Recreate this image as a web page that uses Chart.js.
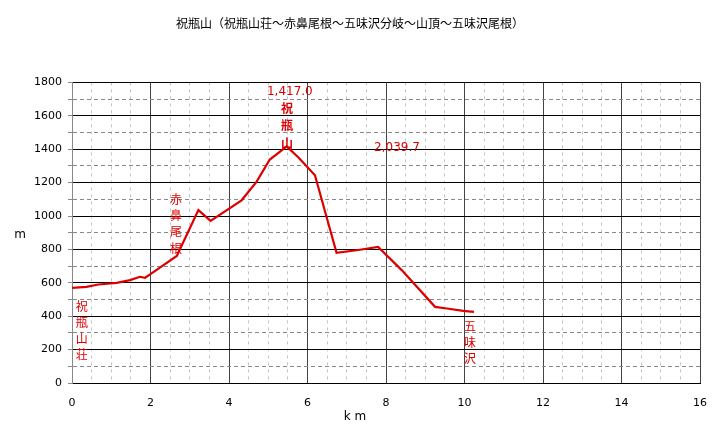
<!DOCTYPE html>
<html>
<head>
<meta charset="utf-8">
<script src="https://cdn.jsdelivr.net/npm/chart.js@4/dist/chart.umd.min.js"></script>
<style>
  body { margin: 0; background: #fff; }
  #wrap { width: 722px; height: 448px; }
</style>
</head>
<body>
<div id="wrap"><canvas id="chart1" width="722" height="448"></canvas></div>
<script>
var titulo = "祝瓶山（祝瓶山荘～赤鼻尾根～五味沢分岐～山頂～五味沢尾根）";

var distKm = [0, 0.37, 0.67, 1.14, 1.48, 1.73, 1.86, 1.99, 2.67, 3.22, 3.53, 4.32, 4.70, 5.04, 5.47, 5.77, 6.19, 6.74, 7.25, 7.80, 8.40, 9.25, 9.55, 9.97, 10.24];
var elevM = [570, 576, 590, 600, 616, 636, 630, 650, 761, 1035, 971, 1094, 1204, 1338, 1417, 1350, 1244, 779, 795, 815, 676, 456, 446, 432, 426];

var xTicks = [0, 2, 4, 6, 8, 10, 12, 14, 16];
var yTicks = [0, 200, 400, 600, 800, 1000, 1200, 1400, 1600, 1800];

var nombres = ["祝瓶山荘", "赤鼻尾根", "祝瓶山", "五味沢"];
var textos = ["1,417.0", "2,039.7"];

var rojo = "#dd0000";

// etiquetas: posicion en km / m
var etiquetasV = [
  { t: nombres[0], x: 0.25, y: 457, bold: false, gap: 16 },
  { t: nombres[1], x: 2.65, y: 1100, bold: false, gap: 16.3 },
  { t: nombres[2], x: 5.48, y: 1645, bold: true, gap: 17.5 },
  { t: nombres[3], x: 10.14, y: 338, bold: false, gap: 16 }
];
var etiquetasH = [
  { t: textos[0], x: 5.55, y: 1746 },
  { t: textos[1], x: 8.28, y: 1405 }
];

var textosPlugin = {
  id: "textos",
  afterDatasetsDraw: function(chart) {
    var c = chart.ctx;
    var sx = chart.scales.x, sy = chart.scales.y;
    c.save();
    c.fillStyle = rojo;
    c.textAlign = "center";
    c.textBaseline = "middle";
    etiquetasV.forEach(function(e) {
      c.font = (e.bold ? "bold " : "") + "12px 'Noto Sans CJK JP'";
      var px = sx.getPixelForValue(e.x), py = sy.getPixelForValue(e.y);
      for (var i = 0; i < e.t.length; i++) {
        c.fillText(e.t[i], px, py + i * e.gap);
      }
    });
    c.font = "12px 'DejaVu Sans'";
    etiquetasH.forEach(function(e) {
      c.fillText(e.t, sx.getPixelForValue(e.x), sy.getPixelForValue(e.y));
    });
    // titulos de ejes
    c.fillStyle = "#000";
    c.font = "12px 'DejaVu Sans'";
    var a = chart.chartArea;
    c.fillText("m", 20, (a.top + a.bottom) / 2 + 2);
    c.fillText("k m", (a.left + a.right) / 2 - 31, 417);
    c.restore();
  }
};

var puntos = distKm.map(function(d, i) { return { x: d, y: elevM[i] }; });

function esMayor(ctx, paso) {
  if (!ctx.tick) return true;
  return Math.abs(ctx.tick.value / paso - Math.round(ctx.tick.value / paso)) < 1e-6;
}

var grafico1 = new Chart(document.getElementById("chart1"), {
  type: "line",
  data: {
    datasets: [{
      data: puntos,
      borderColor: rojo,
      borderWidth: 2.2,
      pointRadius: 0,
      tension: 0,
      fill: false
    }]
  },
  options: {
    responsive: false,
    animation: false,
    layout: { padding: { left: 0, right: 22, top: 0, bottom: 0 } },
    plugins: {
      legend: { display: false },
      tooltip: { enabled: false },
      title: {
        display: true,
        text: titulo,
        color: "#000",
        font: { family: "'Noto Sans CJK JP'", size: 12, weight: "normal" },
        padding: { top: 16, bottom: 52 }
      }
    },
    scales: {
      x: {
        type: "linear",
        min: 0, max: 16,
        afterFit: function(s) { s.height = 65; },
        ticks: {
          stepSize: 0.5,
          maxTicksLimit: 100,
          autoSkip: false,
          maxRotation: 0,
          padding: 14,
          color: "#000",
          font: { family: "'DejaVu Sans'", size: 11 },
          callback: function(v) { return xTicks.indexOf(v) >= 0 ? String(v) : ""; }
        },
        grid: {
          drawTicks: false,
          lineWidth: 1,
          color: function(ctx) { return esMayor(ctx, 2) ? "#444" : "#c4c4c4"; }
        },
        border: {
          display: true,
          color: "#000",
          dash: function(ctx) { return esMayor(ctx, 2) ? [] : [3, 4]; }
        }
      },
      y: {
        min: 0, max: 1800,
        afterFit: function(s) { s.width = 72; },
        ticks: {
          stepSize: 100,
          maxTicksLimit: 100,
          autoSkip: false,
          padding: 6,
          color: "#000",
          font: { family: "'DejaVu Sans'", size: 11 },
          callback: function(v) { return yTicks.indexOf(v) >= 0 ? String(v) : ""; }
        },
        grid: {
          drawTicks: true,
          tickLength: 4,
          tickColor: "#888",
          lineWidth: 1,
          color: function(ctx) { return esMayor(ctx, 200) ? "#000" : "#888"; }
        },
        border: {
          display: true,
          color: "#888",
          dash: function(ctx) { return esMayor(ctx, 200) ? [] : [4, 3]; }
        }
      }
    }
  },
  plugins: [textosPlugin]
});
</script>
</body>
</html>
